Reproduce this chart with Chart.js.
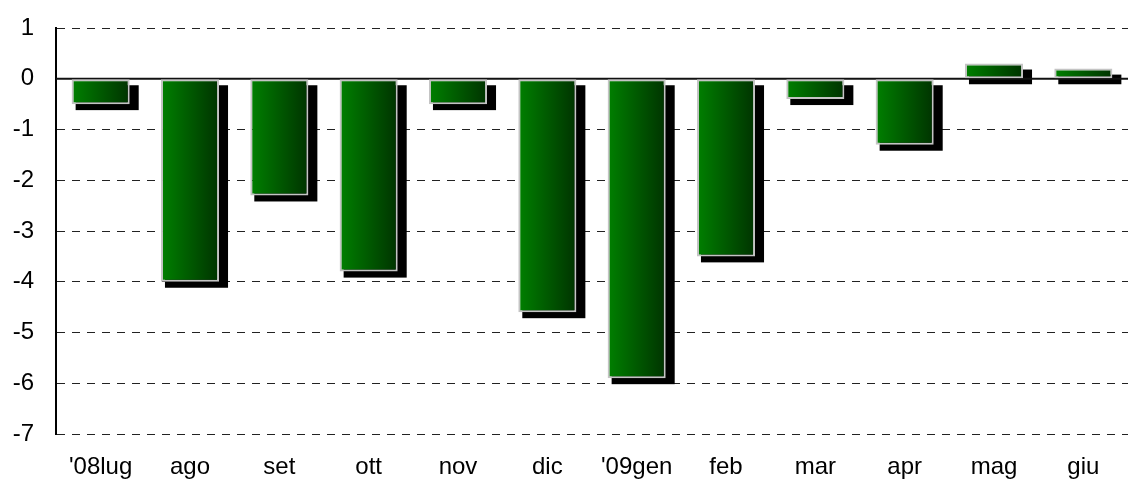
<!DOCTYPE html>
<html>
<head>
<meta charset="utf-8">
<script src="https://cdn.jsdelivr.net/npm/chart.js@4.4.1/dist/chart.umd.min.js"></script>
<style>
  html, body { margin: 0; padding: 0; background: #fff; }
  #wrap { width: 1129px; height: 484px; }
</style>
</head>
<body>
<div id="wrap"><canvas id="chart" width="1129" height="484"></canvas></div>
<script>
// monthly values, Jul 2008 - Jun 2009
var categories = ["'08lug", 'ago', 'set', 'ott', 'nov', 'dic', "'09gen", 'feb', 'mar', 'apr', 'mag', 'giu'];
var values = [-0.5, -4.0, -2.3, -3.8, -0.5, -4.6, -5.9, -3.5, -0.4, -1.3, 0.3, 0.2];
var yTicks = [1, 0, -1, -2, -3, -4, -5, -6, -7];

var BAR_PCT = 0.65;

/**
 * Horizontal green gradient across one bar, placed from the x scale.
 */
function _barGradient(ctx) {
    var chart = ctx.chart;
    var area = chart.chartArea;
    if (!area) return '#006000';
    var xs = chart.scales.x;
    var cx = xs.getPixelForValue(ctx.dataIndex);
    var half = (area.right - area.left) / categories.length * BAR_PCT / 2;
    var g = chart.ctx.createLinearGradient(cx - half, 0, cx + half, 0);
    g.addColorStop(0, '#008000');
    g.addColorStop(1, '#003300');
    return g;
}

// black drop shadow behind each bar, plus the solid zero line
var shadowPlugin = {
    id: 'barShadow',
    beforeDatasetsDraw: function (chart) {
        var c = chart.ctx;
        var meta = chart.getDatasetMeta(0);
        c.save();
        c.fillStyle = '#000';
        meta.data.forEach(function (bar) {
            var left = bar.x - bar.width / 2;
            var right = bar.x + bar.width / 2;
            var top = Math.min(bar.y, bar.base);
            var bottom = Math.max(bar.y, bar.base);
            c.fillRect(left + 4, top + 6, right - left + 5, bottom - top);
        });
        var y0 = chart.scales.y.getPixelForValue(0);
        c.strokeStyle = '#111';
        c.lineWidth = 2;
        c.beginPath();
        c.moveTo(chart.chartArea.left, y0);
        c.lineTo(chart.chartArea.right, y0);
        c.stroke();
        c.restore();
    }
};

new Chart(document.getElementById('chart'), {
    type: 'bar',
    data: {
        labels: categories,
        datasets: [{
            data: values,
            backgroundColor: _barGradient,
            borderColor: '#c4c4c4',
            borderWidth: 2,
            borderSkipped: false,
            barPercentage: BAR_PCT,
            categoryPercentage: 1.0,
        }],
    },
    options: {
        responsive: false,
        animation: false,
        events: [],
        layout: { padding: { left: 0, right: 1, top: 28, bottom: 0 } },
        plugins: {
            legend: { display: false },
            tooltip: { enabled: false },
        },
        scales: {
            y: {
                min: -7,
                max: 1,
                afterBuildTicks: function (axis) {
                    axis.ticks = yTicks.map(function (v) { return { value: v }; });
                },
                afterFit: function (axis) {
                    axis.width = 56;
                    axis.paddingTop = 0;
                    axis.paddingBottom = 0;
                },
                ticks: {
                    color: '#000',
                    font: { family: 'Arial, "Liberation Sans"', size: 24 },
                    padding: 22,
                },
                grid: {
                    color: function (ctx) {
                        return ctx.tick && ctx.tick.value === 0 ? 'rgba(0,0,0,0)' : '#222';
                    },
                    lineWidth: 1,
                    drawTicks: false,
                },
                border: { display: true, color: '#000', width: 2, dash: [8, 7] },
            },
            x: {
                afterFit: function (axis) { axis.height = 50; },
                ticks: {
                    color: '#000',
                    font: { family: 'Arial, "Liberation Sans"', size: 24 },
                    padding: 11,
                    maxRotation: 0,
                },
                grid: { display: false },
                border: { display: false },
            },
        },
    },
    plugins: [shadowPlugin],
});
</script>
</body>
</html>
